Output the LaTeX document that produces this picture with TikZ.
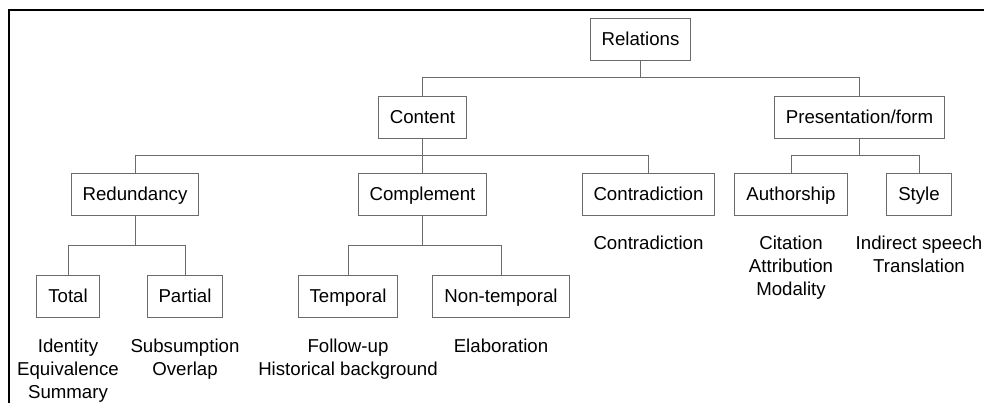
\documentclass[tikz,border=0pt]{standalone}
\usepackage{fontspec}
\setmainfont{Liberation Sans}
\usepackage{tikz}
\usetikzlibrary{positioning,calc}
\definecolor{linegray}{gray}{0.42}
\tikzstyle{box}=[draw=linegray, line width=0.75pt, inner xsep=8.6pt, minimum height=31.5pt, text height=10pt, text depth=1pt, text=black]
\tikzstyle{leaf}=[inner sep=0pt, align=center, text=black]
\tikzstyle{link}=[draw=linegray, line width=0.75pt]
\tikzstyle{frame}=[draw=black, line width=1.6pt]
\newcommand{\treelink}[3]{
 \draw[link] (#1.south) -- (#1.south |- #3) -| (#2.north);
}

\begin{document}
\begin{tikzpicture}[x=0.75pt, y=-0.75pt, font=\fontsize{14}{17.25}\selectfont]
 \useasboundingbox (0,0) rectangle (984,403);
 \draw[frame] (9,403) -- (9,10) -- (984,10);
%
 \coordinate (bus1) at (0,78);
 \coordinate (bus2) at (0,155);
 \coordinate (bus3) at (0,245);
%
 \node[box] (rel) at (640.5,39.5) {Relations};
 \node[box] (cont) at (422.5,117) {Content};
 \node[box] (pres) at (859.5,117) {Presentation/form};
 \node[box] (red) at (135,194) {Redundancy};
 \node[box] (comp) at (422.5,194) {Complement};
 \node[box] (contr) at (648.5,194) {Contradiction};
 \node[box] (auth) at (791,194) {Authorship};
 \node[box] (sty) at (919,194) {Style};
 \node[box] (tot) at (68,296) {Total};
 \node[box] (part) at (185,296) {Partial};
 \node[box] (temp) at (348,296) {Temporal};
 \node[box] (nont) at (501,296) {Non-temporal};
%
 \treelink{rel}{cont}{bus1}
 \treelink{rel}{pres}{bus1}
 \treelink{cont}{red}{bus2}
 \treelink{cont}{comp}{bus2}
 \treelink{cont}{contr}{bus2}
 \treelink{pres}{auth}{bus2}
 \treelink{pres}{sty}{bus2}
 \treelink{red}{tot}{bus3}
 \treelink{red}{part}{bus3}
 \treelink{comp}{temp}{bus3}
 \treelink{comp}{nont}{bus3}
%
 \node[leaf, below=16pt of tot] (totl) {Identity\\Equivalence\\Summary};
 \node[leaf, below=16pt of part] (partl) {Subsumption\\Overlap};
 \node[leaf, below=16pt of temp] (templ) {Follow-up\\Historical background};
 \node[leaf, below=16pt of nont] (nontl) {Elaboration};
 \node[leaf, below=15pt of contr] (contrl) {Contradiction};
 \node[leaf, below=15.5pt of auth] (authl) {Citation\\Attribution\\Modality};
 \node[leaf, below=15pt of sty] (styl) {Indirect speech\\Translation};
\end{tikzpicture}
\end{document}
